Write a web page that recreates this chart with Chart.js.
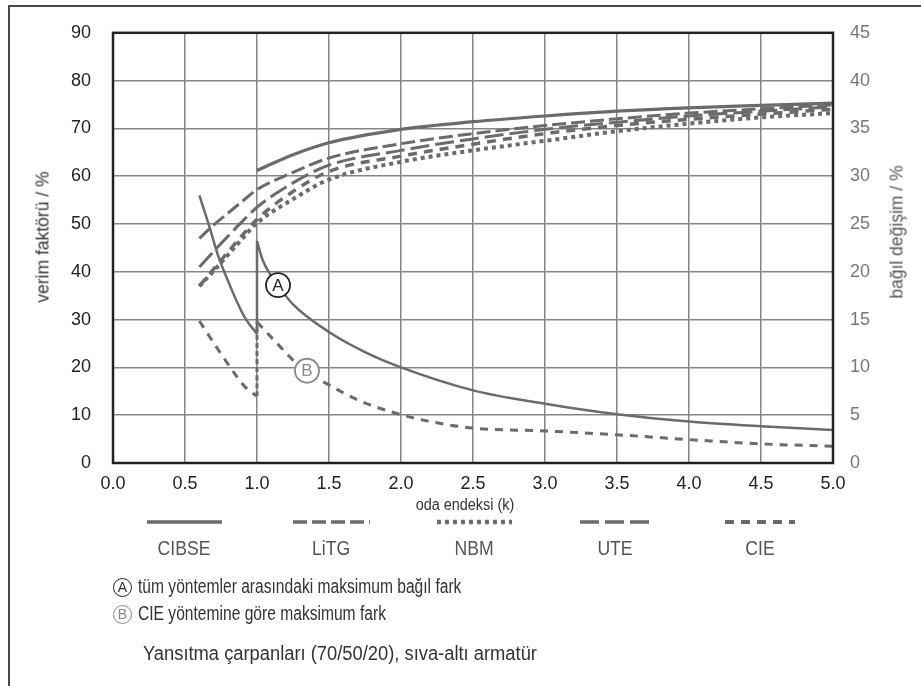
<!DOCTYPE html>
<html>
<head>
<meta charset="utf-8">
<script src="https://cdn.jsdelivr.net/npm/chart.js@4.4.1/dist/chart.umd.min.js"></script>
<style>
  html, body { margin: 0; padding: 0; background: #fff; width: 921px; height: 686px; overflow: hidden; }
  body { position: relative; font-family: "Liberation Sans", Arial, sans-serif; color: #333; }
  #frame { position: absolute; left: 8px; top: 5px; width: 960px; height: 720px; border: 2px solid #4a4a4a; box-sizing: border-box; }
  #wrap { position: absolute; left: 0; top: 0; width: 921px; height: 686px; }
  .t { position: absolute; white-space: nowrap; transform: translate(-50%, -50%); }
  .v { transform: translate(-50%, -50%) rotate(-90deg); font-size: 17.5px; }
  .leg { font-size: 20px; color: #555; transform: translate(-50%, -50%) scaleX(0.88); }
  .note { position: absolute; left: 113px; font-size: 19.5px; color: #333; white-space: nowrap; }
  .note .txt { display: inline-block; transform: scaleX(0.8); transform-origin: left center; }
  .circ { display: inline-block; width: 17px; height: 17px; line-height: 17px; border-radius: 50%; border: 1.6px solid #222;
          text-align: center; font-size: 14px; margin-right: 6px; vertical-align: 1px; }
</style>
</head>
<body>
<div id="frame"></div>
<div id="wrap"><canvas id="chart"></canvas></div>

<div class="t v" style="left:43px; top:237px; color:#333;">verim faktörü / %</div>
<div class="t v" style="left:897px; top:232px; color:#555;">bağıl değişim / %</div>
<div class="t" style="left:465px; top:505px; font-size:16px; color:#333; transform: translate(-50%, -50%) scaleX(0.9);">oda endeksi (k)</div>

<div class="t leg" style="left:184px; top:548px;">CIBSE</div>
<div class="t leg" style="left:331px; top:548px;">LiTG</div>
<div class="t leg" style="left:474px; top:548px;">NBM</div>
<div class="t leg" style="left:615px; top:548px;">UTE</div>
<div class="t leg" style="left:760px; top:548px;">CIE</div>

<div class="note" style="top:575px;"><span class="circ">A</span><span class="txt">tüm yöntemler arasındaki maksimum bağıl fark</span></div>
<div class="note" style="top:602px;"><span class="circ" style="border-color:#888; color:#888;">B</span><span class="txt">CIE yöntemine göre maksimum fark</span></div>
<div class="note" style="top:642px; left:143px;"><span class="txt" style="transform: scaleX(0.94);">Yansıtma çarpanları (70/50/20), sıva-altı armatür</span></div>

<script>
// oda endeksi (k) values
const kMain = [0.6, 0.7, 0.8, 0.9, 1.0, 1.25, 1.5, 2.0, 2.5, 3.0, 3.5, 4.0, 4.5, 5.0];
const kCibse = [1.0, 1.25, 1.5, 2.0, 2.5, 3.0, 3.5, 4.0, 4.5, 5.0];

// verim faktörü / % (left axis)
const cibse = [61.2, 64.5, 67.0, 69.8, 71.4, 72.6, 73.6, 74.3, 74.8, 75.3];
const litg = [47.0, 49.8, 52.3, 54.8, 57.2, 60.8, 63.8, 66.8, 68.9, 70.6, 72.0, 73.2, 74.1, 74.9];
const nbm = [37.0, 40.2, 43.6, 47.0, 50.2, 55.2, 59.3, 63.0, 65.4, 67.4, 69.4, 71.0, 72.3, 73.2];
const ute = [41.0, 44.3, 47.5, 50.6, 53.5, 58.6, 62.3, 65.4, 67.8, 69.8, 71.3, 72.6, 73.6, 74.5];
const cie = [37.0, 40.6, 44.2, 47.7, 51.0, 56.8, 61.0, 64.2, 66.7, 68.9, 70.6, 71.9, 73.0, 74.0];

// bağıl değişim / % (right axis) - curve A
const kALeft = [0.6, 0.67, 0.73, 0.8, 0.86, 0.92, 1.0];
const aLeft = [28.0, 24.7, 21.7, 19.0, 16.9, 15.1, 13.5];
const kAJump = [1.0, 1.0];
const aJump = [13.5, 23.2];
const kARight = [1.0, 1.04, 1.15, 1.25, 1.5, 1.75, 2.0, 2.5, 3.0, 3.5, 4.0, 4.5, 5.0];
const aRight = [23.2, 21.2, 18.5, 16.6, 13.7, 11.6, 10.0, 7.6, 6.2, 5.1, 4.35, 3.85, 3.45];

// curve B
const kBLeft = [0.6, 0.68, 0.76, 0.85, 0.93, 1.0];
const bLeft = [14.85, 13.0, 11.2, 9.25, 7.75, 7.0];
const kBJump = [1.0, 1.0];
const bJump = [7.0, 14.75];
const kBRight = [1.0, 1.14, 1.33, 1.49, 1.7, 2.0, 2.25, 2.5, 3.0, 3.5, 4.0, 4.5, 5.0];
const bRight = [14.75, 12.5, 9.65, 8.25, 6.6, 5.05, 4.2, 3.65, 3.35, 2.95, 2.45, 2.0, 1.75];

// circled markers (k, right axis value)
const markerA = { k: 1.146, v: 18.6 };
const markerB = { k: 1.347, v: 9.65 };

const gray = '#6b6b6b';
const pts = (xs, ys) => xs.map((x, i) => ({ x, y: ys[i] }));

const line = (label, data, dash, width, axis = 'y') => ({
    label,
    data,
    yAxisID: axis,
    borderColor: gray,
    borderWidth: width,
    borderDash: dash,
    borderCapStyle: 'butt',
    pointRadius: 0,
    fill: false,
    cubicInterpolationMode: 'monotone',
});

const datasets = [
    line('CIBSE', pts(kCibse, cibse), [], 3.2),
    line('LiTG', pts(kMain, litg), [14, 5], 3),
    line('NBM', pts(kMain, nbm), [4, 4], 4),
    line('UTE', pts(kMain, ute), [19, 6], 3),
    line('CIE', pts(kMain, cie), [9, 7], 3.5),
    line('A1', pts(kALeft, aLeft), [], 2.5, 'y2'),
    line('A2', pts(kAJump, aJump), [], 2.5, 'y2'),
    line('A3', pts(kARight, aRight), [], 2.5, 'y2'),
    line('B1', pts(kBLeft, bLeft), [8, 7], 3, 'y2'),
    line('B2', pts(kBJump, bJump), [5, 3], 3, 'y2'),
    line('B3', pts(kBRight, bRight), [8, 7], 3, 'y2'),
];

// legend sample lines (x ranges in px)
const legendSpans = [[147, 222], [293, 370], [437, 512], [580, 650], [725, 795]];

const decorations = {
    id: 'decorations',
    afterDatasetsDraw(chart) {
        const { ctx, chartArea: a, scales } = chart;
        ctx.save();
        ctx.strokeStyle = '#222';
        ctx.lineWidth = 2.5;
        ctx.setLineDash([]);
        ctx.strokeRect(a.left, a.top, a.right - a.left, a.bottom - a.top);

        // circled A / B inside plot
        [[markerA, 'A', '#222'], [markerB, 'B', '#888']].forEach(([m, txt, col]) => {
            const x = scales.x.getPixelForValue(m.k);
            const y = scales.y2.getPixelForValue(m.v);
            ctx.beginPath();
            ctx.arc(x, y, 12, 0, Math.PI * 2);
            ctx.fillStyle = '#fff';
            ctx.fill();
            ctx.lineWidth = 1.8;
            ctx.strokeStyle = col;
            ctx.stroke();
            ctx.fillStyle = col;
            ctx.font = '17px "Liberation Sans", Arial, sans-serif';
            ctx.textAlign = 'center';
            ctx.textBaseline = 'middle';
            ctx.fillText(txt, x, y + 1);
        });

        // legend samples
        chart.data.datasets.slice(0, 5).forEach((ds, i) => {
            const [x0, x1] = legendSpans[i];
            ctx.beginPath();
            ctx.setLineDash(ds.borderDash);
            ctx.lineWidth = ds.borderWidth + 0.5;
            ctx.strokeStyle = gray;
            ctx.moveTo(x0, 522);
            ctx.lineTo(x1, 522);
            ctx.stroke();
        });
        ctx.restore();
    },
};

const tickFont = { size: 18, family: '"Liberation Sans", Arial, sans-serif' };

new Chart(document.getElementById('chart'), {
    type: 'line',
    data: { datasets },
    plugins: [decorations],
    options: {
        responsive: true,
        maintainAspectRatio: false,
        animation: false,
        layout: { padding: { top: 20, left: 0, right: 0, bottom: 0 } },
        plugins: {
            legend: { display: false },
            tooltip: { enabled: false },
        },
        scales: {
            x: {
                type: 'linear',
                min: 0,
                max: 5,
                ticks: {
                    stepSize: 0.5,
                    callback: v => v.toFixed(1),
                    color: '#222',
                    font: tickFont,
                    padding: 10,
                    maxRotation: 0,
                },
                grid: { color: '#858585', lineWidth: 1.5, drawTicks: false },
                border: { display: false },
                afterFit: s => { s.height = 223; },
            },
            y: {
                position: 'left',
                min: 0,
                max: 90,
                ticks: { stepSize: 10, color: '#222', font: tickFont, padding: 22 },
                grid: { color: '#858585', lineWidth: 1.5, drawTicks: false },
                border: { display: false },
                afterFit: s => { s.width = 113; },
            },
            y2: {
                position: 'right',
                min: 0,
                max: 45,
                ticks: { stepSize: 5, color: '#777', font: tickFont, padding: 17 },
                grid: { drawOnChartArea: false, drawTicks: false },
                border: { display: false },
                afterFit: s => { s.width = 88; },
            },
        },
    },
});
</script>
</body>
</html>
